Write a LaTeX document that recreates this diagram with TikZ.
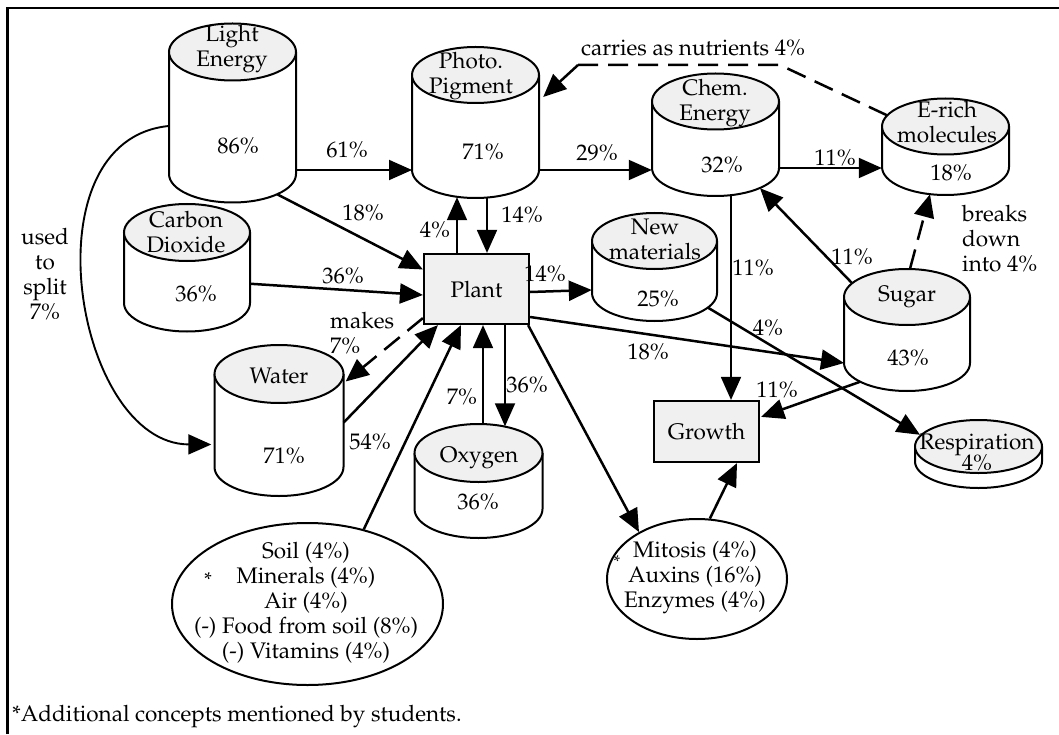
\documentclass[tikz,border=0pt]{standalone}
\usepackage[T1]{fontenc}
\usepackage{mathpazo}
\usetikzlibrary{arrows.meta,calc,shapes.geometric,fit}
\definecolor{capgray}{HTML}{F0F0F0}
\newcommand\bodysize{\fontsize{22.5}{25}\selectfont}
\newcommand\starsize{\fontsize{20}{20}\selectfont}
\newcommand\smallstarsize{\fontsize{17}{17}\selectfont}
% \drum{name}{cx}{top centre y}{bottom centre y}{x radius}{y radius}
\newcommand\drum[6]{%
  \filldraw[outline,fill=white] ({#2-#5},#3) -- ({#2-#5},#4)
     arc[start angle=180,end angle=0,x radius=#5,y radius=#6] -- ({#2+#5},#3);
  \filldraw[outline,fill=capgray] (#2,#3) ellipse[x radius=#5,y radius=#6];
  \coordinate (#1-l) at ({#2-#5},#4);
  \coordinate (#1-r) at ({#2+#5},#4);
  \coordinate (#1-a) at ({#2-#5},{#3-#6});
  \coordinate (#1-b) at ({#2+#5},{#4+#6});
  \node[fit=(#1-a)(#1-b),inner sep=0pt] (#1) {};
}
\begin{document}
\begin{tikzpicture}[x=1pt,y=-1pt,
  outline/.style={line width=2pt},
  txt/.style={font=\bodysize,inner sep=0pt,align=center},
  box/.style={draw,fill=capgray,line width=2.2pt,inner sep=0pt,font=\bodysize},
  oval/.style={ellipse,draw,line width=2pt,inner sep=0pt,fill=white},
  tip/.style={-{Triangle[length=23pt,width=20pt]}},
  arr/.style={line width=2.5pt,tip},
  thinarr/.style={line width=1.9pt,tip},
  dasharr/.style={line width=2.5pt,dash pattern=on 20pt off 10pt,tip},
  dashline/.style={line width=2.5pt,dash pattern=on 20pt off 10pt}]
\useasboundingbox (0,0) rectangle (1059,735);
\draw[line width=2.2pt] (7.5,734) -- (7.5,8) -- (1059,8);

% reservoirs
\drum{light}{232.5}{52}{174}{63.5}{28.5}
\drum{photo}{475.5}{75}{170}{63.5}{28}
\drum{chem}{715.5}{101.5}{168}{63.5}{28}
\drum{erich}{945.5}{126.5}{167}{63.5}{28}
\drum{carbon}{187}{232.5}{303}{63}{28.5}
\drum{newmat}{654.5}{241}{293}{62.5}{28}
\drum{sugar}{907}{297}{363}{63}{28}
\drum{water}{279}{374}{467}{64.5}{29}
\drum{oxygen}{478.5}{453}{509}{64}{29}
\drum{resp}{978.5}{446.5}{461.5}{63.5}{26.5}

% names and shares on the reservoirs
\node[txt] (lightname) at (232,49.5) {Light\\Energy};
\node[txt] (lightval) at (238,146) {86\%};
\node[txt] (photoname) at (471,76) {Photo.\\Pigment};
\node[txt] (photoval) at (483,152) {71\%};
\node[txt] (chemname) at (715,103) {Chem.\\Energy};
\node[txt] (chemval) at (722,165) {32\%};
\node[txt] (erichname) at (947,122) {E-rich\\molecules};
\node[txt] (erichval) at (951,173) {18\%};
\node[txt] (carbonname) at (186,232) {Carbon\\Dioxide};
\node[txt] (carbonval) at (196,294) {36\%};
\node[txt] (newmatname) at (655,239) {New\\materials};
\node[txt] (newmatval) at (658,299) {25\%};
\node[txt] (sugarname) at (907,297) {Sugar};
\node[txt] (sugarval) at (908,358) {43\%};
\node[txt] (watername) at (279,376) {Water};
\node[txt] (waterval) at (284,456) {71\%};
\node[txt] (oxygenname) at (479,458) {Oxygen};
\node[txt] (oxygenval) at (478,502) {36\%};
\node[txt] (respname) at (977,452) {Respiration\\[-4pt]4\%};

% boxes and ovals
\node[box,minimum width=105pt,minimum height=70pt] (plant) at (476.5,289) {Plant};
\node[box,minimum width=105pt,minimum height=61pt] (growth) at (706.5,431.5) {Growth};
\node[oval,minimum width=271pt,minimum height=162pt] (soil) at (307.5,604) {};
\node[txt] (soiltext) at (306,603) {Soil (4\%)\\Minerals (4\%)\\Air (4\%)\\(-) Food from soil (8\%)\\(-) Vitamins (4\%)};
\node[inner sep=0pt,font=\starsize] (soilstar) at (208,580) {*};
\node[oval,minimum width=180pt,minimum height=120pt] (mitosis) at (697,579) {};
\node[txt] (mitosistext) at (695,578) {Mitosis (4\%)\\Auxins (16\%)\\Enzymes (4\%)};
\node[inner sep=0pt,font=\smallstarsize] (mitosisstar) at (617,562) {*};

% flows
\draw[thinarr] (light.east |- photo-l) -- (photo-l);
\draw[arr] ($(light.south)+(44.5,-8.5)$) -- (plant.160);
\draw[thinarr] (photo-r) -- (photo-r -| chem.west);
\draw[thinarr] (chem-r) -- (chem-r -| erich.west);
\coordinate (p14) at ($(plant.north)+(10.5,0)$);
\coordinate (p4) at ($(plant.north)+(-19.5,0)$);
\draw[thinarr] (p14 |- photo.south) -- (p14);
\draw[thinarr] (p4) -- ($(p4 |- photo.south)+(0,-1)$);
\draw[arr] ($(carbon.east)+(0,16)$) -- ($(plant.west)+(0,6)$);
\draw[arr] ($(plant.east)+(0,3)$) -- ($(newmat.west)+(0,23)$);
\draw[arr] ($(plant.east)+(0,28)$) -- (sugar-l);
\draw[dasharr] ($(plant.south west)+(0,-7)$) -- ($(water.east)+(2,-39)$);
\draw[arr] ($(water.east)+(0,2)$) -- ($(plant.south west)+(15,0)$);
\coordinate (o7) at ($(plant.south)+(6.5,0)$);
\coordinate (o36) at ($(plant.south)+(28.5,0)$);
\draw[thinarr] (o7 |- oxygen.north) -- (o7);
\draw[thinarr] (o36) -- ($(o36 |- oxygen.north)+(0,2.5)$);
\draw[arr] (soil.53) -- ($(plant.south)+(-15.5,0)$);
\draw[arr] ($(plant.south east)+(-2,0)$) -- (mitosis.141);
\draw[arr] (mitosis.78) -- ($(growth.south)+(30.5,0)$);
\coordinate (c11) at ($(growth.north)+(24.5,0)$);
\draw[thinarr] (c11 |- chem.south) -- (c11);
\draw[arr] ($(sugar.north)+(-55,14.3)$) -- ($(chem.south)+(44.5,-8)$);
\draw[dasharr] ($(sugar.north)+(3,0)$) -- ($(erich.south)+(-15.5,-1)$);
\draw[arr] ($(sugar.south)+(-47,-9.4)$) -- ($(growth.north east)+(1,17)$);
\draw[arr] ($(newmat.south)+(53.5,-13.5)$) -- ($(resp.north)+(-58.5,15)$);
\draw[thinarr] ($(light.west)+(0,13)$) .. controls (25,140) and (75,444) .. ($(water.west)+(-3,24)$);
\coordinate (bendA) at (780,65);
\coordinate (bendB) at (578,65);
\draw[dashline] ($(erich.north)+(-58.5,17)$) -- (bendA) -- (bendB);
\draw[arr] (bendB) -- ($(photo.east)+(4,-25.5)$);

% flow labels
\node[txt] (l61) at (347,150) {61\%};
\node[txt] (l18a) at (363,213) {18\%};
\node[txt] (l29) at (597,153) {29\%};
\node[txt] (l11a) at (835,158) {11\%};
\node[txt] (lcarry) at (693,48) {carries as nutrients 4\%};
\node[txt] (l14a) at (522,215) {14\%};
\node[txt] (l4a) at (435,230) {4\%};
\node[txt] (l36a) at (343,276) {36\%};
\node[txt] (l14b) at (545,274) {14\%};
\node[txt,align=left,anchor=west] (lmakes) at (330,333) {makes\\7\%};
\node[txt] (l54) at (370,442) {54\%};
\node[txt] (l7) at (462,397) {7\%};
\node[txt] (l36b) at (527,385) {36\%};
\node[txt] (lsplit) at (45,274) {used\\to\\split\\7\%};
\node[txt] (l11b) at (753,268) {11\%};
\node[txt] (l11c) at (852,257) {11\%};
\node[txt,align=left,anchor=west] (lbreaks) at (962,239) {breaks\\down\\into 4\%};
\node[txt] (l4b) at (768,328) {4\%};
\node[txt] (l18b) at (648,352) {18\%};
\node[txt] (l11d) at (777,390) {11\%};

\node[txt,anchor=base west] (note) at (12,721) {*Additional concepts mentioned by students.};
\end{tikzpicture}
\end{document}
